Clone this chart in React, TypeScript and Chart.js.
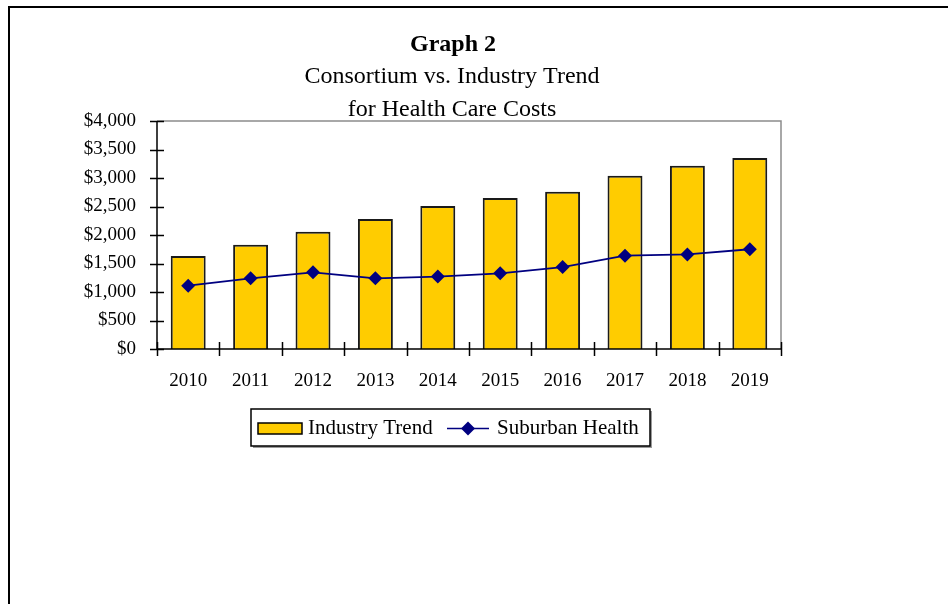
import React, { useEffect, useRef } from "react";
import { Chart, registerables } from "chart.js";

Chart.register(...registerables);

const years = ["2010", "2011", "2012", "2013", "2014", "2015", "2016", "2017", "2018", "2019"];
const industryTrend = [1630, 1830, 2055, 2280, 2510, 2650, 2760, 3040, 3215, 3350];
const suburbanHealth = [1110, 1240, 1345, 1240, 1270, 1328, 1438, 1637, 1660, 1750];
const yTicks = [0, 500, 1000, 1500, 2000, 2500, 3000, 3500, 4000];
const titleLines = ["Graph 2", "Consortium vs. Industry Trend", "for Health Care Costs"];

const SERIF = '"Liberation Serif", "Times New Roman", serif';

const decorPlugin = {
  id: "decor",
  beforeDraw(chart: any) {
    const ctx = chart.ctx;
    ctx.save();
    ctx.fillStyle = "#fff";
    ctx.fillRect(0, 0, chart.width, chart.height);
    ctx.restore();
  },
  afterDatasetsDraw(chart: any) {
    const ctx = chart.ctx;
    const a = chart.chartArea;
    const ys = chart.scales.y;
    ctx.save();
    ctx.strokeStyle = "#8c8c8c";
    ctx.lineWidth = 1.5;
    ctx.beginPath();
    ctx.moveTo(a.left, a.top);
    ctx.lineTo(a.right, a.top);
    ctx.lineTo(a.right, a.bottom);
    ctx.stroke();
    ctx.strokeStyle = "#000";
    ctx.lineWidth = 1.5;
    ctx.beginPath();
    ctx.moveTo(a.left, a.top);
    ctx.lineTo(a.left, a.bottom);
    ctx.lineTo(a.right, a.bottom);
    ctx.stroke();
    ctx.beginPath();
    yTicks.forEach((v) => {
      const y = Math.round(ys.getPixelForValue(v)) + 0.5;
      ctx.moveTo(a.left - 7, y);
      ctx.lineTo(a.left + 7, y);
    });
    const n = years.length;
    const w = (a.right - a.left) / n;
    for (let i = 0; i <= n; i++) {
      const x = Math.round(a.left + i * w) + 0.5;
      ctx.moveTo(x, a.bottom - 7);
      ctx.lineTo(x, a.bottom + 7);
    }
    ctx.stroke();
    ctx.restore();
  },
  afterDraw(chart: any) {
    const ctx = chart.ctx;
    ctx.save();
    ctx.fillStyle = "#000";
    ctx.fillRect(8, 6, chart.width - 8, 2);
    ctx.fillRect(8, 6, 2, chart.height - 6);
    ctx.textAlign = "center";
    ctx.textBaseline = "middle";
    ctx.fillStyle = "#000";
    ctx.font = `bold 24px ${SERIF}`;
    ctx.fillText(titleLines[0], 453, 45);
    ctx.font = `24px ${SERIF}`;
    ctx.fillText(titleLines[1], 452, 77);
    ctx.fillText(titleLines[2], 452, 110);
    // legend
    const ds = chart.data.datasets;
    const barDs = ds.find((d: any) => d.type === "bar");
    const lineDs = ds.find((d: any) => d.type === "line");
    const bx = 251, by = 409, bw = 399, bh = 37;
    ctx.fillStyle = "#9a9a9a";
    ctx.fillRect(bx + 2, by + bh, bw, 2);
    ctx.fillRect(bx + bw, by + 2, 2, bh);
    ctx.fillStyle = "#fff";
    ctx.fillRect(bx, by, bw, bh);
    ctx.strokeStyle = "#000";
    ctx.lineWidth = 1.5;
    ctx.strokeRect(bx, by, bw, bh);
    const cy = 428.5;
    ctx.fillStyle = barDs.backgroundColor;
    ctx.fillRect(258, 423, 44, 11);
    ctx.strokeStyle = "#000";
    ctx.lineWidth = 1.5;
    ctx.strokeRect(258, 423, 44, 11);
    ctx.font = `21px ${SERIF}`;
    ctx.textAlign = "left";
    ctx.fillStyle = "#000";
    ctx.fillText(barDs.label, 308, cy);
    ctx.strokeStyle = lineDs.borderColor;
    ctx.lineWidth = 1.5;
    ctx.beginPath();
    ctx.moveTo(447, cy);
    ctx.lineTo(489, cy);
    ctx.stroke();
    ctx.fillStyle = lineDs.pointBackgroundColor;
    ctx.beginPath();
    ctx.moveTo(468, cy - 7);
    ctx.lineTo(475, cy);
    ctx.lineTo(468, cy + 7);
    ctx.lineTo(461, cy);
    ctx.closePath();
    ctx.fill();
    ctx.fillStyle = "#000";
    ctx.fillText(lineDs.label, 497, cy);
    ctx.restore();
  },
};

export default function App() {
  const ref = useRef<HTMLCanvasElement>(null);
  useEffect(() => {
    if (!ref.current) return;
    const chart = new Chart(ref.current, {
      type: "bar",
      data: {
        labels: years,
        datasets: [
          {
            type: "line",
            label: "Suburban Health",
            data: suburbanHealth,
            borderColor: "#000080",
            borderWidth: 1.8,
            backgroundColor: "#000080",
            pointBackgroundColor: "#000080",
            pointBorderColor: "#000080",
            pointStyle: "rectRot",
            pointRadius: 7,
            pointBorderWidth: 0,
            tension: 0,
            order: 0,
          } as any,
          {
            type: "bar",
            label: "Industry Trend",
            data: industryTrend,
            backgroundColor: "#FFCC00",
            borderColor: "#1a1a1a",
            borderWidth: 2,
            barPercentage: 0.56,
            categoryPercentage: 1,
            order: 1,
          } as any,
        ],
      },
      options: {
        responsive: false,
        animation: false,
        devicePixelRatio: 1,
        layout: { padding: { left: 0, top: 121, right: 167, bottom: 0 } },
        plugins: {
          legend: { display: false },
          title: { display: false },
          tooltip: { enabled: false },
        },
        scales: {
          x: {
            grid: { display: false },
            border: { display: false },
            ticks: {
              color: "#000",
              font: { family: SERIF, size: 19 },
              padding: 13,
              maxRotation: 0,
            },
            afterFit: (s: any) => {
              s.height = 255;
            },
          },
          y: {
            min: 0,
            max: 4000,
            grid: { display: false },
            border: { display: false },
            afterBuildTicks: (s: any) => {
              s.ticks = yTicks.map((v) => ({ value: v }));
            },
            ticks: {
              color: "#000",
              font: { family: SERIF, size: 19 },
              padding: 13,
              callback: (v: any) => "$" + Number(v).toLocaleString("en-US"),
            },
            afterFit: (s: any) => {
              s.width = 157;
            },
          },
        },
      },
      plugins: [decorPlugin],
    });
    return () => chart.destroy();
  }, []);
  return (
    <canvas
      ref={ref}
      width={948}
      height={604}
      style={{ position: "absolute", left: 0, top: 0, width: 948, height: 604 }}
    />
  );
}
